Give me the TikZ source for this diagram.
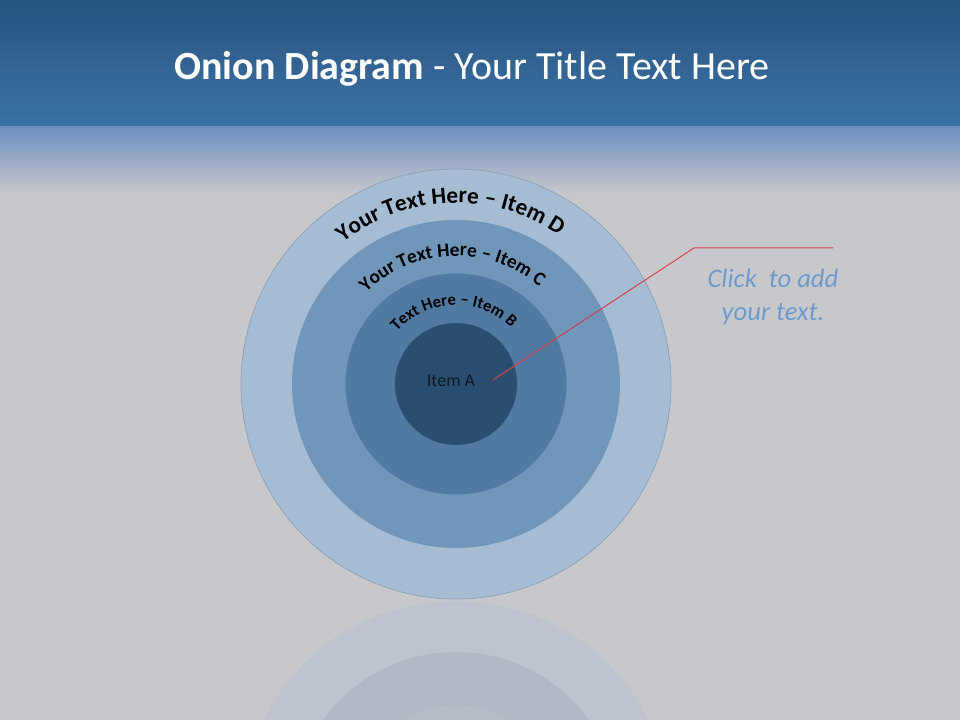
\documentclass[tikz,border=0pt]{standalone}
\usepackage{fontspec}
\setmainfont{Carlito}
\usetikzlibrary{decorations.text}
\definecolor{bg}{HTML}{C7C8CC}
\definecolor{hdrtop}{HTML}{285480}
\definecolor{hdrbot}{HTML}{3C72A6}
\definecolor{fadetop}{HTML}{6E8FBF}
\definecolor{ringD}{RGB}{165,188,210}
\definecolor{ringC}{RGB}{112,150,185}
\definecolor{ringB}{RGB}{80,122,162}
\definecolor{ringA}{RGB}{42,78,112}
\definecolor{reflD}{RGB}{189,196,206}
\definecolor{reflC}{RGB}{175,184,196}
\definecolor{reflB}{RGB}{180,188,198}
\definecolor{edgeD}{HTML}{8FA3BA}
\definecolor{callred}{HTML}{D6404C}
\definecolor{calltext}{HTML}{6E9ACB}
\definecolor{darktext}{HTML}{0E1620}
\tikzset{
  ring/.style={circle, inner sep=0pt, draw=none},
  arctext/.style={decorate, decoration={text along path, text align=center, text color=black, text={#1}}},
}
\begin{document}
\begin{tikzpicture}[x=0.75pt,y=0.75pt]
\useasboundingbox (0,0) rectangle (960,720);
\fill[bg] (0,0) rectangle (960,720);
\shade[top color=hdrtop,bottom color=hdrbot] (0,720) rectangle (960,593);
\shade[top color=fadetop,bottom color=bg] (0,593) rectangle (960,525);
% reflection
\begin{scope}
\clip (0,0) rectangle (960,120);
\fill[reflD] (456,-96) circle[radius=215];
\fill[reflC] (456,-96) circle[radius=164];
\fill[reflB] (456,-96) circle[radius=110.5];
\end{scope}
% rings
\node[ring, fill=ringD, draw=edgeD, line width=0.6pt, minimum size=322.5pt] (D) at (456,336) {};
\node[ring, fill=ringC, minimum size=246pt] (C) at (456,336) {};
\node[ring, fill=ringB, minimum size=165.75pt] (B) at (456,336) {};
\node[ring, fill=ringA, minimum size=91.5pt] (A) at (456,336) {};
% arc texts
\path[arctext={|\fontsize{17.5}{20}\selectfont\bfseries|Your Text Here – Item D}]
  (D.center) ++(182:181) arc[start angle=182, end angle=2, radius=181];
\path[arctext={|\fontsize{14.5}{16}\selectfont\bfseries|Your Text Here – Item C}]
  (C.center) ++(182:128) arc[start angle=182, end angle=2, radius=128];
\path[arctext={|\fontsize{12.5}{14}\selectfont\bfseries|Text Here – Item B}]
  (B.center) ++(182:79) arc[start angle=182, end angle=2, radius=79];
\node[text=darktext, font=\fontsize{13.5}{16}\selectfont] (labelA) at (451,339) {Item A};
% callout
\coordinate (p0) at (493,340);
\coordinate (p1) at (694,472);
\coordinate (p2) at (833,472);
\draw[callred, line width=0.75pt] (p0) -- (p1) -- (p2);
\node[text=calltext, align=center, font=\fontsize{20}{24.5}\selectfont\itshape] (call) at (773,423) {Click\ \ to add\\your text.};
% title
\node[anchor=base, text=white, font=\fontsize{30}{36}\selectfont] (title) at (472,640) {\textbf{Onion Diagram} - Your Title Text Here};
\end{tikzpicture}
\end{document}
